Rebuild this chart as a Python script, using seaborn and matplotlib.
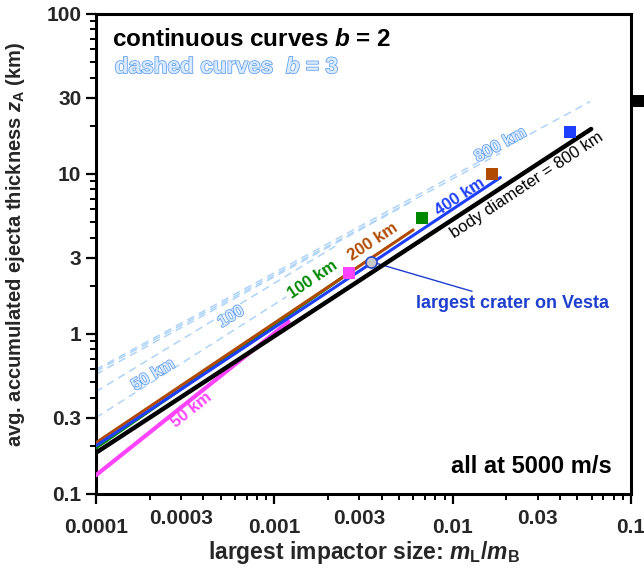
import matplotlib
matplotlib.use("Agg")
import matplotlib.pyplot as plt
import matplotlib.patheffects as pe
import seaborn as sns
import pandas as pd

# body diameters (km) and straight log-log curve end points
diam_km = [50, 100, 200, 400, 800]
x_start = 1e-4
solid_x_end = [0.0012, 0.00243, 0.006, 0.0185, 0.0597]
solid_y_start = [0.131, 0.194, 0.209, 0.200, 0.181]
solid_y_end = [1.19, 2.27, 4.47, 9.5, 19.1]
dashed_x_end = [0.00117, 0.00225, 0.006, 0.0185, 0.059]
dashed_y_start = [0.30, 0.436, 0.56, 0.585, 0.60]
dashed_y_end = [1.71, 3.6, 6.8, 13.5, 28.4]

# squares = largest impactor for each body
square_x = [0.00262, 0.0067, 0.01655, 0.0452, 0.109]
square_y = [2.41, 5.33, 10.0, 18.2, 28.6]

vesta_x = 0.00348
vesta_y = 2.83

line_colors = ["#ff44ff", "#008800", "#b04a00", "#1f3fff", "#000000"]
line_widths = [3.0, 2.2, 2.2, 2.2, 3.2]
dash_color = "#aed4fa"

x_major = [0.0001, 0.001, 0.01, 0.1]
x_major_labels = ["0.0001", "0.001", "0.01", "0.1"]
x_minor = [m * 10.0 ** e for e in (-4, -3, -2) for m in range(2, 10)]
x_minor_labels = [("0.0003", "0.003", "0.03")[i // 8] if i % 8 == 1 else "" for i in range(24)]
y_ticks = [0.1, 0.3, 1, 3, 10, 30, 100]
y_ticklabels = ["0.1", "0.3", "1", "3", "10", "30", "100"]

sns.set_theme(style="ticks")
plt.rcParams["font.family"] = ["Liberation Sans", "DejaVu Sans"]
plt.rcParams["font.weight"] = "bold"
plt.rcParams["axes.labelweight"] = "bold"
plt.rcParams["mathtext.fontset"] = "custom"
plt.rcParams["mathtext.it"] = "Liberation Sans:italic:bold"
plt.rcParams["mathtext.rm"] = "Liberation Sans:bold"
plt.rcParams["mathtext.bf"] = "Liberation Sans:bold"

solid = pd.DataFrame({
    "x": [x_start] * 5 + solid_x_end,
    "y": solid_y_start + solid_y_end,
    "d": diam_km + diam_km,
})
dashed = pd.DataFrame({
    "x": [x_start] * 5 + dashed_x_end,
    "y": dashed_y_start + dashed_y_end,
    "d": diam_km + diam_km,
})

fig = plt.figure(figsize=(6.44, 5.75), dpi=100)
ax = fig.add_axes([0.149, 0.1409, 0.831, 0.8348])
ax.set_xscale("log")
ax.set_yscale("log")

for d in diam_km[::-1]:
    sub = dashed[dashed["d"] == d]
    sns.lineplot(data=sub, x="x", y="y", ax=ax, color=dash_color, lw=1.1,
                 linestyle=(0, (5, 3.5)), zorder=2)

for i, d in enumerate(diam_km):
    sub = solid[solid["d"] == d]
    sns.lineplot(data=sub, x="x", y="y", ax=ax, color=line_colors[i],
                 lw=line_widths[i], zorder=3 + i)

sq = pd.DataFrame({"x": square_x, "y": square_y, "d": diam_km})
sns.scatterplot(data=sq, x="x", y="y", hue="d", palette=line_colors, marker="s",
                s=75, linewidth=0, legend=False, ax=ax, zorder=9, clip_on=False)

ax.plot([vesta_x], [vesta_y], "o", ms=8, mfc="#c8c8c8", mec="#2a48c8", mew=1.2, zorder=10)
ax.annotate("largest crater on Vesta", xy=(vesta_x, vesta_y), xytext=(0.0062, 1.56),
            color="#1f3fcf", fontsize=13, fontweight="bold", va="center",
            arrowprops=dict(arrowstyle="-", color="#1f3fcf", lw=1, shrinkA=0, shrinkB=4))

# curve labels
ax.text(0.0261, 8.53, "body diameter = 800 km", rotation=33.5, color="black",
        fontsize=12, fontweight="normal", ha="center", va="center")
ax.text(0.0110, 7.18, "400 km", rotation=33.5, color="#1f3fff", fontsize=12,
        ha="center", va="center")
ax.text(0.00358, 3.76, "200 km", rotation=33.5, color="#b04a00", fontsize=12,
        ha="center", va="center")
ax.text(0.00165, 2.18, "100 km", rotation=34, color="#008800", fontsize=12,
        ha="center", va="center")
ax.text(0.000345, 0.335, "50 km", rotation=38.5, color="#ff44ff", fontsize=12,
        ha="center", va="center")

outline = [pe.withStroke(linewidth=1.1, foreground="#5f9cf0")]
ax.text(0.01846, 15.2, "800 km", rotation=28.5, color="#d8eaff", fontsize=12,
        ha="center", va="center", path_effects=outline)
ax.text(0.000571, 1.28, "100", rotation=31, color="#d8eaff", fontsize=12,
        ha="center", va="center", path_effects=outline)
ax.text(0.000209, 0.555, "50 km", rotation=31, color="#d8eaff", fontsize=12,
        ha="center", va="center", path_effects=outline)

ax.text(0.030, 0.946, "continuous curves $b$ = 2", transform=ax.transAxes,
        fontsize=17.5, color="black", ha="left", va="center")
ax.text(0.035, 0.890, "dashed curves  $b$ = 3", transform=ax.transAxes,
        fontsize=16.3, color="#d8eaff", ha="left", va="center", path_effects=outline)
ax.text(0.9645, 0.058, "all at 5000 m/s", transform=ax.transAxes,
        fontsize=17, color="black", ha="right", va="center")

ax.set_xlim(1e-4, 0.1)
ax.set_ylim(0.1, 100)
ax.set_xticks(x_major, x_major_labels)
ax.set_xticks(x_minor, x_minor_labels, minor=True)
ax.set_yticks(y_ticks)
ax.set_yticklabels(y_ticklabels)
ax.tick_params(which="major", length=7, width=1.6, labelsize=15, direction="out", color="black")
ax.tick_params(which="minor", length=4, width=1.4, labelsize=15, direction="out", color="black")
ax.tick_params(axis="x", which="major", pad=10)
ax.tick_params(axis="x", which="minor", pad=7)
for s in ax.spines.values():
    s.set_linewidth(2.2)
    s.set_color("black")

ax.set_xlabel("largest impactor size: $m_{\\rm L}/m_{\\rm B}$", fontsize=16.5)
ax.xaxis.set_label_coords(0.5, -0.093)
ax.set_ylabel("avg. accumulated ejecta thickness $z_{\\rm A}$ (km)", fontsize=14.5)
ax.yaxis.set_label_coords(-0.129, 0.52)

plt.savefig("out.png", dpi=100)
plt.close()
